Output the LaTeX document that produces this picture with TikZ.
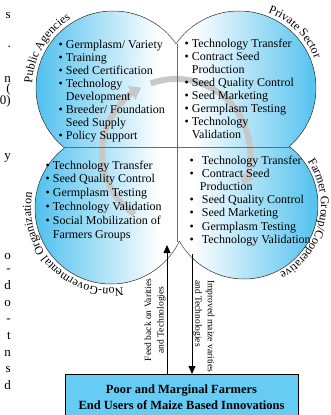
\documentclass[tikz,border=0pt]{standalone}
\usepackage{fontspec}
\setmainfont{Liberation Serif}
\usetikzlibrary{arrows.meta,decorations.text}
\definecolor{lobeblue}{RGB}{78,192,238}
\definecolor{boxblue}{RGB}{102,204,244}
\definecolor{crossgreen}{RGB}{0,166,81}
\definecolor{ringgray}{RGB}{200,200,200}
\newcommand\lobebul{\textbullet\ }
\newcommand\lobebulwide{\textbullet\hspace{8pt}}
\newcommand\lobegap{\hphantom{\textbullet\ }}
\begin{document}
\begin{tikzpicture}[x=1pt,y=1pt,
  listtext/.style={inner sep=0pt, anchor=north west, align=left},
  arclabel/.style={decorate, decoration={text along path, text align=center,
      text={|\fontsize{12}{12}\selectfont|#1}}},
  lobeline/.style={draw=black!75, line width=0.5pt},
  cyclearrow/.style={ringgray, line width=6pt, -{Triangle[width=15pt,length=11pt]}},
  flowarrow/.style={line width=0.8pt, -{Triangle[width=7pt,length=8pt]}},
  sidelabel/.style={font=\fontsize{9.5}{12.5}\selectfont, inner sep=0pt},
  farmbox/.style={draw=black, line width=0.8pt, fill=boxblue, align=center,
      font=\bfseries\fontsize{12.5}{16}\selectfont, minimum width=233pt,
      minimum height=46pt, inner sep=0pt},
  frag/.style={font=\fontsize{13}{13}\selectfont, inner sep=0pt, anchor=base east},
]
\useasboundingbox (0,0) rectangle (331,-415);

% centres of the four lobes and of the hub between them
\coordinate (C1) at (113,-88);
\coordinate (C2) at (239,-88);
\coordinate (C3) at (111,-208);
\coordinate (C4) at (244,-205);
\coordinate (H) at (177,-147);
% notches between the lobes
\coordinate (tn) at (177,-44);
\coordinate (bn) at (177,-242);
\coordinate (ln) at (65,-147);
\coordinate (rn) at (290,-147);

% lobe fill
\begin{scope}
  \clip (C1) circle (77) (C2) circle (77) (C3) circle (76) (C4) circle (74)
        (H) circle (40);
  \fill[left color=lobeblue, right color=white] (34,0) rectangle (160,-300);
  \fill[left color=white, right color=lobeblue] (192,0) rectangle (320,-300);
\end{scope}

% lobe outlines (outer boundary only): each frame + disc clip keeps
% what lies outside the disc
\begin{scope}
  \clip (-10,-430) rectangle (340,10) (C2) circle (77);
  \clip (-10,-430) rectangle (340,10) (C3) circle (76);
  \clip (-10,-430) rectangle (340,10) (H) circle (40);
  \draw[lobeline] (C1) circle (77);
\end{scope}
\begin{scope}
  \clip (-10,-430) rectangle (340,10) (C1) circle (77);
  \clip (-10,-430) rectangle (340,10) (C4) circle (74);
  \clip (-10,-430) rectangle (340,10) (H) circle (40);
  \draw[lobeline] (C2) circle (77);
\end{scope}
\begin{scope}
  \clip (-10,-430) rectangle (340,10) (C1) circle (77);
  \clip (-10,-430) rectangle (340,10) (C4) circle (74);
  \clip (-10,-430) rectangle (340,10) (H) circle (40);
  \draw[lobeline] (C3) circle (76);
\end{scope}
\begin{scope}
  \clip (-10,-430) rectangle (340,10) (C2) circle (77);
  \clip (-10,-430) rectangle (340,10) (C3) circle (76);
  \clip (-10,-430) rectangle (340,10) (H) circle (40);
  \draw[lobeline] (C4) circle (74);
\end{scope}

% cycle arrow behind the lists
\coordinate (G) at (176,-153);
\draw[cyclearrow]
  ([shift={(110:74)}]G) arc[start angle=110, end angle=-26, radius=74];
\draw[cyclearrow]
  ([shift={(236:74)}]G) arc[start angle=236, end angle=118, radius=74];

% dividing cross
\draw[crossgreen, line width=0.8pt] (tn) -- (bn);
\draw[crossgreen, line width=0.8pt] (ln) -- (rn);

% labels around the lobes
\path[arclabel={Public Agencies}]
  ([shift={(230:81)}]C1) arc[start angle=230, end angle=68, radius=81];
\path[arclabel={Private Sector}]
  ([shift={(125:81)}]C2) arc[start angle=125, end angle=-35, radius=81];
\path[arclabel={Farmer Group/Cooperative}]
  ([shift={(70:77)}]C4) arc[start angle=70, end angle=-98, radius=77];
\path[arclabel={Non-Govermental Organization}]
  ([shift={(314:80)}]C3) arc[start angle=314, end angle=134, radius=80];

% lists
\node[listtext, font=\fontsize{12}{13}\selectfont] (pub) at (58.5,-40) {%
  \lobebul Germplasm/ Variety\\
  \lobebul Training\\
  \lobebul Seed Certification\\
  \lobebul Technology\\
  \lobegap Development\\
  \lobebul Breeder/ Foundation\\
  \lobegap Seed Supply\\
  \lobebul Policy Support};
\node[listtext, font=\fontsize{12}{13}\selectfont] (priv) at (184.5,-38.5) {%
  \lobebul Technology Transfer\\
  \lobebul Contract Seed\\
  \lobegap Production\\
  \lobebul Seed Quality Control\\
  \lobebul Seed Marketing\\
  \lobebul Germplasm Testing\\
  \lobebul Technology\\
  \lobegap Validation};
\node[listtext, font=\fontsize{12}{13.8}\selectfont] (ngo) at (45.5,-160.5) {%
  \lobebul Technology Transfer\\
  \lobebul Seed Quality Control\\
  \lobebul Germplasm Testing\\
  \lobebul Technology Validation\\
  \lobebul Social Mobilization of\\
  \lobegap Farmers Groups};
\node[listtext, font=\fontsize{12}{13.2}\selectfont] (coop) at (189.5,-155.5) {%
  \lobebulwide Technology Transfer\\
  \lobebulwide Contract Seed\\
  \hphantom{\textbullet\hspace{6pt}}Production\\
  \lobebulwide Seed Quality Control\\
  \lobebulwide Seed Marketing\\
  \lobebulwide Germplasm Testing\\
  \lobebulwide Technology Validation};

% end users
\node[farmbox, anchor=north] (farmers) at (181.5,-374)
  {Poor and Marginal Farmers\\End Users of Maize Based Innovations};

\coordinate (fbtip) at (167,-245);
\coordinate (impstart) at (192,-254);
\draw[flowarrow] (farmers.north -| fbtip) -- (fbtip);
\draw[flowarrow] (impstart) -- (impstart |- farmers.north);

\node[sidelabel, rotate=90, align=center] (fblabel) at (155,-320)
  {Feed back on Varities\\and Technologies};
\node[sidelabel, rotate=-90, align=left, anchor=west] (implabel) at (204,-280)
  {Improved maize varities\\and Technologies};

% text cut at the left border
\node[frag] (f1) at (11,-19) {s};
\node[frag] (f2) at (11,-47) {.};
\node[frag] (f3) at (11,-82) {n};
\node[frag] (f4) at (11,-92) {(};
\node[frag] (f5) at (11,-104) {0)};
\node[frag] (f6) at (11,-159) {y};
\node[frag] (f7) at (11,-259) {o};
\node[frag] (f8) at (11,-272) {-};
\node[frag] (f9) at (11,-289) {d};
\node[frag] (f10) at (11,-306) {o};
\node[frag] (f11) at (11,-322) {-};
\node[frag] (f12) at (11,-339) {t};
\node[frag] (f13) at (11,-356) {n};
\node[frag] (f14) at (11,-372) {s};
\node[frag] (f15) at (11,-389) {d};
\end{tikzpicture}
\end{document}
